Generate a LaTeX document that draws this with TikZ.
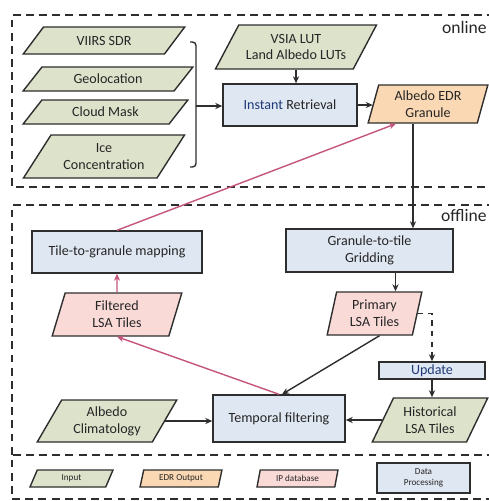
\documentclass[tikz,border=0pt]{standalone}
\usepackage{fontspec}
\setmainfont{Carlito}
\usetikzlibrary{shapes.geometric,arrows.meta}

\definecolor{verde}{HTML}{DDE2CB}
\definecolor{naranja}{HTML}{FBD8B4}
\definecolor{rosa}{HTML}{F9DAD7}
\definecolor{azul}{HTML}{DFE7F2}
\definecolor{borde}{HTML}{2E2E2E}
\definecolor{texto}{HTML}{262626}
\definecolor{marino}{HTML}{203A78}
\definecolor{flecharosa}{HTML}{C4557C}

\begin{document}
\begin{tikzpicture}[x=0.02cm, y=-0.02cm,
  every node/.style={font=\fontsize{8}{9.6}\selectfont, text=texto, align=center, inner sep=0pt},
  caja/.style={rectangle, draw=borde, line width=0.8pt, fill=azul},
  datos/.style={trapezium, draw=borde, line width=0.8pt, trapezium left angle=#1, trapezium right angle={180-#1}, trapezium stretches=true},
  leyenda/.style={font=\fontsize{5.2}{6.2}\selectfont},
  contenedor/.style={draw=borde, line width=1.1pt, dash pattern=on 4.5pt off 3pt},
  flecha/.style={draw=borde, line width=0.8pt, -{Stealth[length=4pt, width=3.5pt]}},
  flecharosa/.style={draw=flecharosa, line width=0.8pt, -{Stealth[length=4pt, width=3.5pt]}}]

\clip (0,0) rectangle (489,501);

% Contenedores punteados
\draw[contenedor] (495,15) -- (12,15) -- (12,187) -- (495,187);
\draw[contenedor] (495,205) -- (12,205) -- (12,455);
\draw[contenedor] (495,455) -- (12,455) -- (12,499) -- (495,499);
\node[font=\fontsize{10}{12}\selectfont, anchor=east] (online) at (487,27) {online};
\node[font=\fontsize{10}{12}\selectfont, anchor=east] (offline) at (487,216) {offline};

% Entradas (online)
\node[datos=45, fill=verde, minimum width=3.24cm, minimum height=0.54cm] (viirs) at (104,40.5) {VIIRS SDR};
\node[datos=45, fill=verde, minimum width=3.4cm, minimum height=0.48cm] (geo) at (108,79) {Geolocation};
\node[datos=45, fill=verde, minimum width=3.3cm, minimum height=0.48cm] (nube) at (105.5,112) {Cloud Mask};
\node[datos=51, fill=verde, minimum width=3.24cm, minimum height=0.86cm] (hielo) at (104,156.5) {Ice\\Concentration};
\node[datos=52, fill=verde, minimum width=3.24cm, minimum height=0.88cm] (lut) at (296,47) {VSIA LUT\\Land Albedo LUTs};

% Corchete que agrupa las entradas
\draw[borde, line width=0.8pt, rounded corners=2pt] (190,42) -- (196,42) -- (196,167) -- (190,167);
\coordinate (llave) at (196,106);

% Procesamiento online
\node[caja, minimum width=2.68cm, minimum height=0.84cm] (inst) at (290,105) {{\color{marino}Instant} Retrieval};
\node[datos=75, fill=naranja, minimum width=2.4cm, minimum height=0.76cm] (edr) at (428,104) {Albedo EDR\\Granule};

% Procesamiento offline
\node[caja, minimum width=3.4cm, minimum height=0.84cm] (t2g) at (117,252) {Tile-to-granule mapping};
\node[caja, minimum width=3.34cm, minimum height=0.86cm] (g2t) at (369.5,250.5) {Granule-to-tile\\Gridding};
\node[datos=77, fill=rosa, minimum width=2.6cm, minimum height=0.86cm] (filt) at (117,314.5) {Filtered\\LSA Tiles};
\node[datos=77, fill=rosa, minimum width=1.9cm, minimum height=0.86cm] (prim) at (374.5,313.5) {Primary\\LSA Tiles};
\node[caja, minimum width=2.12cm, minimum height=0.34cm] (upd) at (432,370.5) {\color{marino}Update};
\node[datos=60, fill=verde, minimum width=2.32cm, minimum height=0.88cm] (hist) at (430,420) {Historical\\LSA Tiles};
\node[caja, minimum width=2.64cm, minimum height=0.94cm] (temp) at (279,418.5) {Temporal filtering};
\node[datos=58, fill=verde, minimum width=2.8cm, minimum height=0.84cm] (clim) at (107,421) {Albedo\\Climatology};

% Leyenda
\node[datos=74, fill=verde, leyenda, minimum width=1.66cm, minimum height=0.34cm] (lin) at (71.5,478.5) {Input};
\node[datos=74, fill=naranja, leyenda, minimum width=1.64cm, minimum height=0.34cm] (lout) at (181,478.5) {EDR Output};
\node[datos=74, fill=rosa, leyenda, minimum width=1.62cm, minimum height=0.34cm] (lip) at (297.5,478.5) {IP database};
\node[caja, leyenda, minimum width=1.86cm, minimum height=0.6cm] (lproc) at (423.5,478) {Data\\Processing};

% Flechas
\draw[flecha] (llave) -- (llave -| inst.west);
\draw[flecha] (lut.south) -- (lut.south |- inst.north);
\draw[flecha] (inst.east) -- (inst.east -| edr.west);
\draw[flecha] ([xshift=-0.3cm]edr.south) -- ([xshift=-0.3cm]edr.south |- g2t.north);
\draw[flecharosa] (t2g.north) -- ([xshift=-0.64cm]edr.south);
\draw[flecharosa] (filt.north) -- (t2g.south);
\draw[flecharosa] (temp.north) -- (filt.south);
\draw[flecha] ([xshift=0.52cm]g2t.south) -- ([xshift=0.52cm]g2t.south |- prim.north);
\draw[flecha] ([xshift=0.1cm]prim.south) -- ([xshift=0.06cm]temp.north);
\draw[flecha, dashed] (prim.east) -- (prim.east -| upd.north) -- (upd.north);
\draw[flecha] (upd.south) -- (upd.south |- hist.north);
\draw[flecha] (hist.west) -- (hist.west -| temp.east);
\draw[flecha] (clim.east) -- (clim.east -| temp.west);

\end{tikzpicture}
\end{document}
